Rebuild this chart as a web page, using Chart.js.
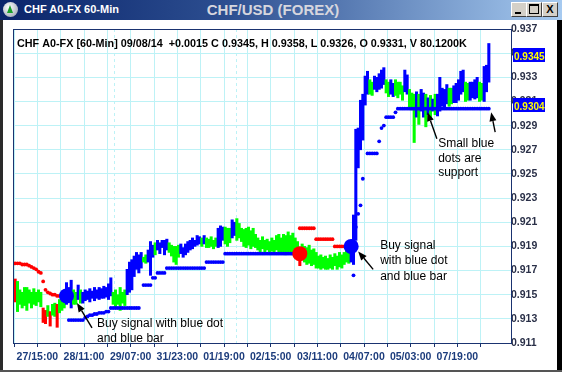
<!DOCTYPE html>
<html>
<head>
<meta charset="utf-8">
<script src="https://cdn.jsdelivr.net/npm/chart.js@4.4.1/dist/chart.umd.min.js"></script>
<style>
html,body{margin:0;padding:0;background:#fff;overflow:hidden;}
#win{position:relative;width:562px;height:372px;background:#fff;overflow:hidden;}
#c{position:absolute;left:0;top:0;}
#tb{position:absolute;left:0;top:0;width:562px;height:20px;background:linear-gradient(90deg,#0a246a 0%,#2c4e90 40%,#a6caf0 100%);}
#icon{position:absolute;left:3px;top:2px;width:15px;height:15px;border-radius:50%;background:radial-gradient(circle at 40% 35%,#ffffff,#8e98a6);}
#icon:after{content:'';position:absolute;left:4px;top:3px;border-left:3.5px solid transparent;border-right:3.5px solid transparent;border-bottom:8px solid #1aa02a;}
#t1{position:absolute;left:24px;top:3px;font:bold 11px "Liberation Sans",Arial,sans-serif;color:#fff;white-space:nowrap;}
#t2{position:absolute;left:0;width:546px;top:1px;text-align:center;font:bold 15px "Liberation Sans",Arial,sans-serif;color:#d6d6de;white-space:nowrap;}
.btn{position:absolute;top:2px;width:14px;height:13px;background:#d4d0c8;border:1px solid;border-color:#fff #404040 #404040 #fff;box-sizing:content-box;}
#lb{position:absolute;left:0;top:20px;width:3px;height:352px;background:#2a2a2a;}
#rb{position:absolute;right:0;top:20px;width:5px;height:352px;background:#000;}
#bb{position:absolute;left:0;bottom:0;width:562px;height:2px;background:#555;}
</style>
</head>
<body>
<div id="win">
<canvas id="c" width="562" height="372"></canvas>
<div id="tb">
  <div id="icon"></div>
  <div id="t1">CHF A0-FX 60-Min</div>
  <div id="t2">CHF/USD (FOREX)</div>
  <div class="btn" style="left:511px"><div style="position:absolute;left:3px;top:9px;width:6px;height:2px;background:#000"></div></div>
  <div class="btn" style="left:526px"><div style="position:absolute;left:2px;top:1px;width:8px;height:7px;border:1px solid #000;border-top-width:2px"></div></div>
  <div class="btn" style="left:542px;font:bold 11px 'Liberation Sans',Arial;line-height:13px;text-align:center;color:#000">X</div>
</div>
<div id="lb"></div><div id="rb"></div><div id="bb"></div>
</div>
<script>
// ---- data ----
const highs = [
 0.9163,0.9161,0.9154,0.9152,0.9156,0.9156,0.9154,0.9152,0.9155,0.9152,
 0.9154,0.9152,0.9139,0.9137,0.9141,0.9136,0.9142,0.9143,0.9142,0.9146,
 0.9147,0.9149,0.9160,0.9156,0.9162,0.9154,0.9152,0.9158,0.9154,0.9152,
 0.9154,0.9153,0.9155,0.9153,0.9156,0.9154,0.9156,0.9155,0.9157,0.9156,
 0.9159,0.9164,0.9152,0.9154,0.9150,0.9156,0.9152,0.9154,0.9171,0.9177,
 0.9179,0.9182,0.9185,0.9183,0.9185,0.9181,0.9183,0.9187,0.9194,0.9191,
 0.9193,0.9195,0.9193,0.9195,0.9195,0.9196,0.9193,0.9191,0.9190,0.9190,
 0.9191,0.9192,0.9189,0.9192,0.9194,0.9195,0.9197,0.9195,0.9199,0.9198,
 0.9197,0.9199,0.9197,0.9196,0.9198,0.9195,0.9197,0.9205,0.9207,0.9206,
 0.9206,0.9205,0.9205,0.9212,0.9210,0.9213,0.9209,0.9205,0.9204,0.9205,
 0.9206,0.9203,0.9205,0.9200,0.9197,0.9195,0.9198,0.9195,0.9196,0.9194,
 0.9197,0.9195,0.9199,0.9200,0.9197,0.9200,0.9199,0.9202,0.9199,0.9201,
 0.9197,0.9194,0.9189,0.9192,0.9190,0.9189,0.9191,0.9187,0.9188,0.9185,
 0.9182,0.9183,0.9181,0.9182,0.9180,0.9183,0.9181,0.9184,0.9182,0.9185,
 0.9183,0.9185,0.9187,0.9185,0.9195,0.9216,0.9287,0.9288,0.9311,0.9316,
 0.9331,0.9335,0.9328,0.9326,0.9331,0.9330,0.9333,0.9336,0.9338,0.9328,
 0.9326,0.9328,0.9325,0.9328,0.9326,0.9326,0.9323,0.9336,0.9332,0.9320,
 0.9317,0.9316,0.9318,0.9316,0.9320,0.9317,0.9316,0.9313,0.9315,0.9312,
 0.9316,0.9316,0.9330,0.9321,0.9320,0.9324,0.9321,0.9321,0.9323,0.9325,
 0.9328,0.9335,0.9336,0.9326,0.9325,0.9326,0.9326,0.9328,0.9330,0.9326,
 0.9325,0.9339,0.9340,0.9358
];
const lows = [
 0.9144,0.9136,0.9142,0.9139,0.9141,0.9137,0.9143,0.9139,0.9142,0.9141,
 0.9144,0.9140,0.9127,0.9126,0.9132,0.9124,0.9133,0.9132,0.9123,0.9135,
 0.9137,0.9139,0.9142,0.9144,0.9139,0.9142,0.9142,0.9146,0.9143,0.9143,
 0.9145,0.9146,0.9144,0.9147,0.9145,0.9147,0.9146,0.9147,0.9147,0.9148,
 0.9146,0.9149,0.9142,0.9139,0.9142,0.9137,0.9143,0.9141,0.9150,0.9152,
 0.9154,0.9165,0.9171,0.9168,0.9172,0.9177,0.9176,0.9177,0.9166,0.9181,
 0.9183,0.9187,0.9184,0.9189,0.9183,0.9187,0.9185,0.9182,0.9177,0.9175,
 0.9181,0.9184,0.9181,0.9183,0.9185,0.9187,0.9188,0.9190,0.9191,0.9192,
 0.9190,0.9192,0.9189,0.9189,0.9190,0.9188,0.9190,0.9189,0.9190,0.9195,
 0.9192,0.9190,0.9193,0.9197,0.9199,0.9195,0.9197,0.9194,0.9190,0.9189,
 0.9191,0.9188,0.9190,0.9189,0.9187,0.9185,0.9188,0.9185,0.9187,0.9185,
 0.9186,0.9185,0.9187,0.9185,0.9184,0.9185,0.9183,0.9184,0.9185,0.9183,
 0.9182,0.9181,0.9174,0.9180,0.9177,0.9175,0.9176,0.9174,0.9175,0.9172,
 0.9172,0.9171,0.9172,0.9171,0.9171,0.9172,0.9171,0.9174,0.9171,0.9173,
 0.9172,0.9175,0.9177,0.9176,0.9177,0.9175,0.9195,0.9255,0.9270,0.9278,
 0.9307,0.9316,0.9316,0.9315,0.9320,0.9318,0.9320,0.9321,0.9324,0.9317,
 0.9314,0.9316,0.9314,0.9315,0.9313,0.9316,0.9311,0.9318,0.9316,0.9305,
 0.9303,0.9276,0.9297,0.9291,0.9302,0.9297,0.9289,0.9299,0.9295,0.9302,
 0.9299,0.9298,0.9302,0.9306,0.9305,0.9308,0.9306,0.9308,0.9309,0.9309,
 0.9311,0.9316,0.9318,0.9310,0.9311,0.9311,0.9313,0.9312,0.9313,0.9310,
 0.9311,0.9310,0.9318,0.9326
];
// r = red bar, g = green bar, b = blue bar
const barColors = ('rggggggggg'+'ggrrgrggrg'+'ggbbbggbgb'+'bbbbbbbbbb'+'bbggggggbb'+
  'bbbbbggbbb'+'gbbbbbgggg'+'gbbbbbbbbb'+'gbgggggbbb'+'gggbbggggg'+
  'gggggggggg'+'gggggggggg'+'ggrggggggg'+'gggggggggg'+'ggggbbbbbb'+
  'bbggbbbbbg'+'gbbggggbbg'+'ggbgbbgbgb'+'gbbbbbggbb'+'bbbggbbbbg'+'gbbb').split('');
const support = [
 null,null,null,null,null,null,null,null,null,null,
 null,null,null,null,null,null,null,null,null,null,
 null,null,null,0.9129,0.9129,0.9129,0.9129,0.9129,0.9129,0.9129,
 0.9131,0.9132,0.9133,0.9133,0.9134,0.9134,0.9135,0.9135,0.9135,0.9136,
 0.9136,0.9139,0.9139,0.9139,0.9139,0.9139,0.9139,0.9139,0.9139,0.9139,
 0.9139,0.9139,0.9139,0.9139,null,0.9158,0.9158,0.9158,0.9158,0.9164,
 0.9164,0.9168,0.9168,0.9168,0.9168,0.9172,0.9172,0.9172,0.9172,0.9172,
 0.9172,0.9172,0.9172,0.9172,0.9172,0.9172,0.9172,0.9172,0.9172,0.9172,
 0.9172,0.9172,0.9177,0.9177,0.9177,0.9177,0.9177,0.9177,0.9177,0.9177,
 0.9184,0.9184,0.9184,0.9184,0.9184,0.9184,0.9184,0.9184,0.9184,0.9184,
 0.9184,0.9184,0.9184,0.9184,0.9184,0.9184,0.9184,0.9184,0.9184,0.9184,
 0.9184,0.9184,0.9184,0.9184,0.9184,0.9184,0.9184,0.9184,0.9184,0.9184,
 0.9184,null,null,null,null,null,null,null,null,null,
 null,null,null,null,null,null,null,null,null,null,
 null,null,null,null,null,0.9166,0.9206,0.9217,0.9224,0.9246,
 null,0.9267,0.9267,0.9267,0.9267,0.9267,0.9277,0.9288,0.9290,0.9297,
 0.9297,0.9297,0.9297,0.9301,0.9304,0.9304,0.9304,0.9304,0.9304,0.9304,
 0.9304,0.9304,0.9304,0.9304,0.9304,0.9304,0.9304,0.9304,0.9304,0.9304,
 0.9304,0.9304,0.9304,0.9304,0.9304,0.9304,0.9304,0.9304,0.9304,0.9304,
 0.9304,0.9304,0.9304,0.9304,0.9304,0.9304,0.9304,0.9304,0.9304,0.9304,
 0.9304,0.9304,0.9304,0.9304
];
const resistance = [
 0.9176,0.9176,0.9176,0.9175,0.9175,0.9175,0.9174,0.9173,0.9172,0.9171,
 0.9169,0.9168,0.9161,0.9154,0.9152,0.9151,0.9150,0.9150,0.9149,0.9149,
 0.9149,0.9149,null,null,null,null,null,null,null,null,
 null,null,null,null,null,null,null,null,null,null,
 null,null,null,null,null,null,null,null,null,null,
 null,null,null,null,null,null,null,null,null,null,
 null,null,null,null,null,null,null,null,null,null,
 null,null,null,null,null,null,null,null,null,null,
 null,null,null,null,null,null,null,null,null,null,
 null,null,null,null,null,null,null,null,null,null,
 null,null,null,null,null,null,null,null,null,null,
 null,null,null,null,null,null,null,null,null,null,
 null,null,0.9205,0.9205,0.9205,0.9205,0.9205,0.9205,0.9205,0.9196,
 0.9196,0.9196,0.9196,0.9196,0.9196,0.9196,0.9196,0.9190,0.9190,0.9190,
 0.9190,0.9190,0.9190,0.9190
];
const buyBars = [22, 144];
const buyPrices = [0.9149, 0.9190];
const sellBars = [122];
const sellPrices = [0.9184];
const xTickBars = [10, 30, 50, 70, 90, 110, 130, 150, 170, 190];
const xTickLabels = ['27/15:00','28/11:00','29/07:00','31/23:00','01/19:00','02/15:00','03/11:00','04/07:00','05/03:00','07/19:00'];
const xGridBars = [0,10,20,30,40,50,60,70,80,90,100,110,120,130,140,150,160,170,180,190,200];
const dayBreakBars = [43, 95];
const yTickValues = [0.911,0.913,0.915,0.917,0.919,0.921,0.923,0.925,0.927,0.929,0.931,0.933,0.935,0.937];
const closePrice = 0.9345;
const supportPrice = 0.9304;
const headerText = 'CHF A0-FX [60-Min] 09/08/14  +0.0015 C 0.9345, H 0.9358, L 0.9326, O 0.9331, V 80.1200K';
const slotCount = 213;

// ---- chart ----
const colorMap = {r:'#ff0000', g:'#00ff00', b:'#0000ff'};
const FONT = '"Liberation Sans", Arial, sans-serif';
const barData = highs.map((h, i) => ({x: i + 0.5, y: [lows[i], h]}));
const toPts = arr => arr.map((v, i) => v == null ? null : {x: i + 0.5, y: v}).filter(Boolean);
const buyPts = buyBars.map((b, k) => ({x: b + 0.5, y: buyPrices[k]}));
const sellPts = sellBars.map((b, k) => ({x: b + 0.5, y: sellPrices[k]}));

function arrow(ctx, x1, y1, x2, y2) {
  const a = Math.atan2(y2 - y1, x2 - x1);
  const L = 9, W = 3.5;
  const bx = x2 - L * Math.cos(a), by = y2 - L * Math.sin(a);
  ctx.beginPath(); ctx.moveTo(x1, y1); ctx.lineTo(bx, by); ctx.stroke();
  ctx.beginPath(); ctx.moveTo(x2, y2);
  ctx.lineTo(bx + W * Math.sin(a), by - W * Math.cos(a));
  ctx.lineTo(bx - W * Math.sin(a), by + W * Math.cos(a));
  ctx.closePath(); ctx.fill();
}

const decor = {
  id: 'decor',
  beforeDatasetsDraw(chart) {
    const {ctx, chartArea: ca, scales: {x}} = chart;
    ctx.save();
    ctx.strokeStyle = '#bdf2f6'; ctx.lineWidth = 1; ctx.setLineDash([3, 3]);
    dayBreakBars.forEach(b => {
      const px = Math.round(x.getPixelForValue(b)) + 0.5;
      ctx.beginPath(); ctx.moveTo(px, ca.top); ctx.lineTo(px, ca.bottom); ctx.stroke();
    });
    ctx.restore();
  },
  afterDraw(chart) {
    const {ctx, chartArea: ca, scales: {x, y}} = chart;
    ctx.save();
    // frame
    ctx.strokeStyle = '#1a3370'; ctx.lineWidth = 1;
    ctx.strokeRect(Math.round(ca.left) - 0.5, Math.round(ca.top) + 0.5, Math.round(ca.right - ca.left) + 1, Math.round(ca.bottom - ca.top));
    // header
    ctx.fillStyle = '#000'; ctx.font = 'bold 10.8px ' + FONT; ctx.textBaseline = 'alphabetic';
    ctx.fillText(headerText, ca.left + 3, ca.top + 18);
    // price tags
    [closePrice, supportPrice].forEach(p => {
      const py = Math.round(y.getPixelForValue(p));
      ctx.fillStyle = '#0000ff'; ctx.fillRect(ca.right + 2, py - 11, 32, 14);
      ctx.fillStyle = '#ffff00'; ctx.font = 'bold 10px ' + FONT;
      ctx.fillText(p.toFixed(4), ca.right + 3, py + 1);
    });
    // annotations
    ctx.fillStyle = '#000'; ctx.strokeStyle = '#000'; ctx.lineWidth = 1.4;
    ctx.font = '12px ' + FONT;
    const b1x = x.getPixelForValue(buyPts[0].x), b1y = y.getPixelForValue(buyPts[0].y);
    arrow(ctx, b1x + 25.5, b1y + 32, b1x + 10.5, b1y + 7);
    ctx.fillText('Buy signal with blue dot', b1x + 30.5, b1y + 31);
    ctx.fillText('and blue bar', b1x + 30.5, b1y + 46);
    const b2x = x.getPixelForValue(buyPts[1].x), b2y = y.getPixelForValue(buyPts[1].y);
    arrow(ctx, b2x + 22, b2y + 23, b2x + 7, b2y + 5);
    ctx.fillText('Buy signal', b2x + 29, b2y + 3);
    ctx.fillText('with blue dot', b2x + 29, b2y + 18);
    ctx.fillText('and blue bar', b2x + 29, b2y + 34);
    const sy = y.getPixelForValue(supportPrice) + 3.5;
    const s1x = x.getPixelForValue(177.2), s2x = x.getPixelForValue(204.5);
    arrow(ctx, s1x + 9.4, sy + 26.6, s1x, sy);
    arrow(ctx, s2x + 4, sy + 20, s2x, sy);
    ctx.fillText('Small blue', s1x + 10.7, sy + 35);
    ctx.fillText('dots are', s1x + 10.7, sy + 50);
    ctx.fillText('support', s1x + 10.7, sy + 64);
    ctx.restore();
  }
};

new Chart(document.getElementById('c'), {
  type: 'bar',
  data: {
    datasets: [
      {type: 'bar', data: barData, backgroundColor: barColors.map(c => colorMap[c]), barThickness: 2.4, order: 5},
      {type: 'scatter', data: toPts(support), pointRadius: 1.9, pointBorderWidth: 0, pointBackgroundColor: '#0000ff', order: 3},
      {type: 'scatter', data: toPts(resistance), pointRadius: 1.9, pointBorderWidth: 0, pointBackgroundColor: '#ff0000', order: 3},
      {type: 'scatter', data: buyPts, pointRadius: 7.5, pointBorderWidth: 0, pointBackgroundColor: '#0000ff', order: 1},
      {type: 'scatter', data: sellPts, pointRadius: 7.5, pointBorderWidth: 0, pointBackgroundColor: '#ff0000', order: 1}
    ]
  },
  options: {
    responsive: false, animation: false, devicePixelRatio: 1,
    layout: {padding: {left: 14, top: 29, right: 0, bottom: 0}},
    plugins: {legend: {display: false}, tooltip: {enabled: false}},
    scales: {
      x: {
        type: 'linear', min: 0, max: slotCount, position: 'bottom', offset: false,
        afterBuildTicks: s => { s.ticks = xGridBars.map(v => ({value: v})); },
        afterFit: s => { s.height = 29; },
        ticks: {autoSkip: false, maxRotation: 0, padding: 4, color: '#1c3c7c',
          font: {family: FONT, size: 10.5, weight: 'bold'},
          callback: v => { const k = xTickBars.indexOf(v); return k >= 0 ? xTickLabels[k] : ''; }},
        grid: {color: '#bdf2f6', lineWidth: 1, tickLength: 4, tickColor: '#1a3370', drawTicks: true, offset: false},
        border: {display: false}
      },
      y: {
        type: 'linear', position: 'right', min: 0.911, max: 0.937,
        afterBuildTicks: s => { s.ticks = yTickValues.map(v => ({value: v})); },
        afterFit: s => { s.width = 51; },
        ticks: {padding: 0, color: '#2a3048', font: {family: FONT, size: 10.5, weight: 'bold'},
          callback: v => v.toFixed(3)},
        grid: {color: '#bdf2f6', drawTicks: false},
        border: {display: false}
      }
    }
  },
  plugins: [decor]
});
</script>
</body>
</html>
